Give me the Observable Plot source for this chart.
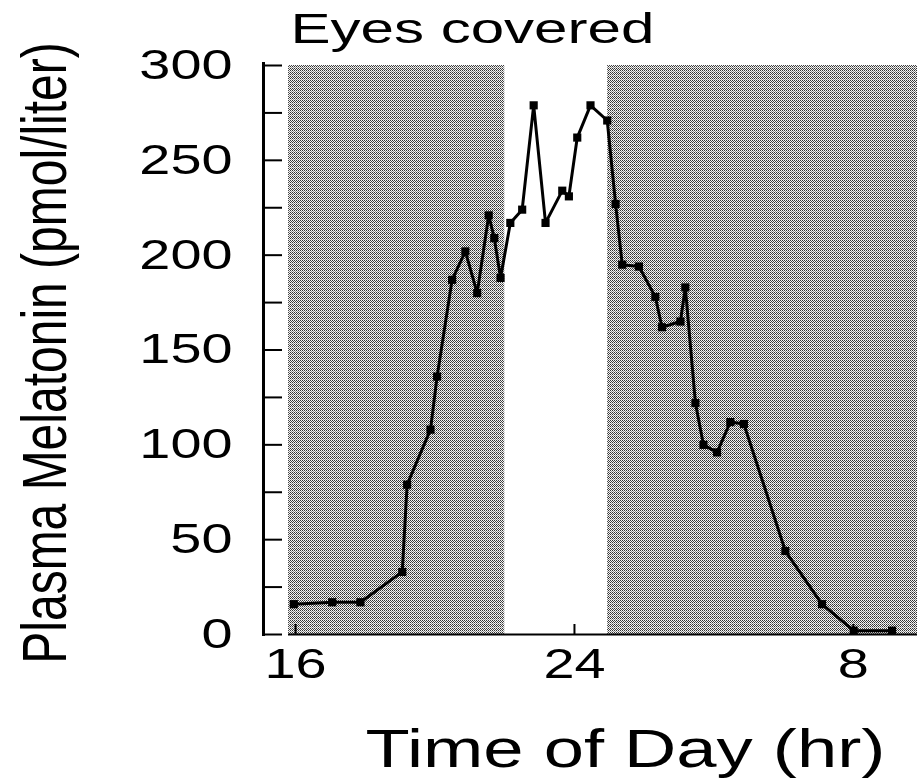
<!DOCTYPE html>
<html>
<head>
<meta charset="utf-8">
<script src="https://cdn.jsdelivr.net/npm/d3@7"></script>
<script src="https://cdn.jsdelivr.net/npm/@observablehq/plot@0.6"></script>
<style>
  html, body { margin: 0; padding: 0; background: #fff; overflow: hidden; }
</style>
</head>
<body>
<script>
// Plasma melatonin sampled across the night (clock hours; values past 24 are the next morning)
const hours = [15.95, 17.05, 17.86, 19.06, 19.2, 19.87, 20.06, 20.49, 20.87, 21.21, 21.54, 21.7, 21.88,
  22.16, 22.5, 22.83, 23.17, 23.65, 23.84, 24.08, 24.46, 24.94, 25.18, 25.37, 25.85, 26.32, 26.51,
  27.04, 27.18, 27.47, 27.7, 28.09, 28.47, 28.86, 30.05, 31.1, 32.01, 33.11];
const melatonin = [16, 17, 17, 33, 79, 108, 136, 187, 202, 180, 221, 209, 188,
  217, 224, 279, 217, 234, 231, 262, 279, 271, 227, 195, 194, 178, 162,
  165, 183, 122, 100, 96, 112, 111, 44, 16, 2, 2];

// Time axis extent and the shaded (dark) periods
const xMin = 15.08, xMax = 33.84;
const darkStart = [15.8, 24.95];
const darkEnd = [22.0, xMax];

// Axis ticks
const yTicks = [0, 25, 50, 75, 100, 125, 150, 175, 200, 225, 250, 275, 300];
const yLabelTicks = [0, 50, 100, 150, 200, 250, 300];
const xLabelTicks = [16, 24, 32];

const title = "Eyes covered";
const xLabel = "Time of Day (hr)";
const yLabel = "Plasma Melatonin (pmol/liter)";

const rows = hours.map((h, i) => ({hour: h, value: melatonin[i]}));
const dark = darkStart.map((s, i) => ({start: s, end: darkEnd[i]}));

const W = 917, H = 778;
const mL = 263, mR = 0, mT = 65, mB = 144;
const frameW = W - mL - mR, frameH = H - mT - mB;

const svg = Plot.plot({
  width: W,
  height: H,
  marginLeft: mL,
  marginRight: mR,
  marginTop: mT,
  marginBottom: mB,
  style: {fontFamily: "'Liberation Sans', Arial, sans-serif", fontSize: "42px", color: "#000", background: "#fff"},
  x: {domain: [xMin, xMax]},
  y: {domain: [0, 300]},
  marks: [
    // stippled dark periods
    Plot.rect(dark, {x1: "start", x2: "end", y1: 0, y2: 300, fill: "url(#stipple)"}),
    // axes
    Plot.ruleX([xMin], {stroke: "#000", strokeWidth: 3, insetTop: -3, insetBottom: -2}),
    Plot.ruleY(yTicks, {stroke: "#000", strokeWidth: 2, insetRight: frameW - 19}),
    Plot.ruleY([0], {stroke: "#000", strokeWidth: 2, insetLeft: 25}),
    Plot.ruleX(xLabelTicks, {stroke: "#000", strokeWidth: 2, insetTop: frameH - 10}),
    Plot.axisY(yLabelTicks, {label: null, tickSize: 0, tickPadding: 31, fontSize: 42, fill: "#000"}),
    Plot.axisX(xLabelTicks, {label: null, tickSize: 0, tickPadding: 14, fontSize: 42, fill: "#000",
      tickFormat: h => String(h > 24 ? h - 24 : h)}),
    // melatonin curve
    Plot.line(rows, {x: "hour", y: "value", stroke: "#000", strokeWidth: 3}),
    Plot.dot(rows, {x: "hour", y: "value", symbol: "square", r: 4.6, fill: "#000", stroke: "none"}),
    // titles
    Plot.text([title], {frameAnchor: "top-left", textAnchor: "start", lineAnchor: "bottom", dx: 27, dy: -23, fontSize: 42, fill: "#000"}),
    Plot.text([xLabel], {frameAnchor: "bottom-left", textAnchor: "start", lineAnchor: "bottom", dx: 102, dy: 132, fontSize: 54, fill: "#000"}),
    Plot.text([yLabel], {frameAnchor: "left", textAnchor: "middle", rotate: -90, lineAnchor: "bottom", dx: -198, dy: 3, fontSize: 48, fill: "#000"})
  ]
});

// Stipple pattern for the dark periods: a fine checkerboard of dark and light dots
const NS = "http://www.w3.org/2000/svg";
const defs = document.createElementNS(NS, "defs");
const pattern = document.createElementNS(NS, "pattern");
pattern.setAttribute("id", "stipple");
pattern.setAttribute("patternUnits", "userSpaceOnUse");
pattern.setAttribute("width", "4");
pattern.setAttribute("height", "4");
[
  [0, 0, 4, 4, "#f4f4f4"],
  [0, 0, 1, 1, "#333"], [2, 0, 1, 1, "#333"],
  [1, 1, 1, 1, "#444"], [3, 1, 1, 1, "#444"],
  [0, 2, 1, 1, "#333"], [2, 2, 1, 1, "#333"],
  [1, 3, 1, 1, "#8a8a8a"], [3, 3, 1, 1, "#8a8a8a"]
].forEach(([x, y, w, h, f]) => {
  const r = document.createElementNS(NS, "rect");
  r.setAttribute("x", x); r.setAttribute("y", y);
  r.setAttribute("width", w); r.setAttribute("height", h);
  r.setAttribute("fill", f);
  pattern.append(r);
});
defs.append(pattern);
svg.insertBefore(defs, svg.firstChild);

document.body.append(svg);

// Wide lettering: stretch glyphs horizontally about each text's anchor
const stretch = {[title]: 1.43, [xLabel]: 1.34};
svg.querySelectorAll("text").forEach(t => {
  const tr = t.getAttribute("transform") || "";
  const txt = t.textContent;
  if (txt === yLabel) {
    t.setAttribute("transform", tr + " scale(1,1.3)");
  } else {
    t.setAttribute("transform", tr + ` scale(${stretch[txt] || 1.33},1)`);
  }
});
</script>
</body>
</html>
